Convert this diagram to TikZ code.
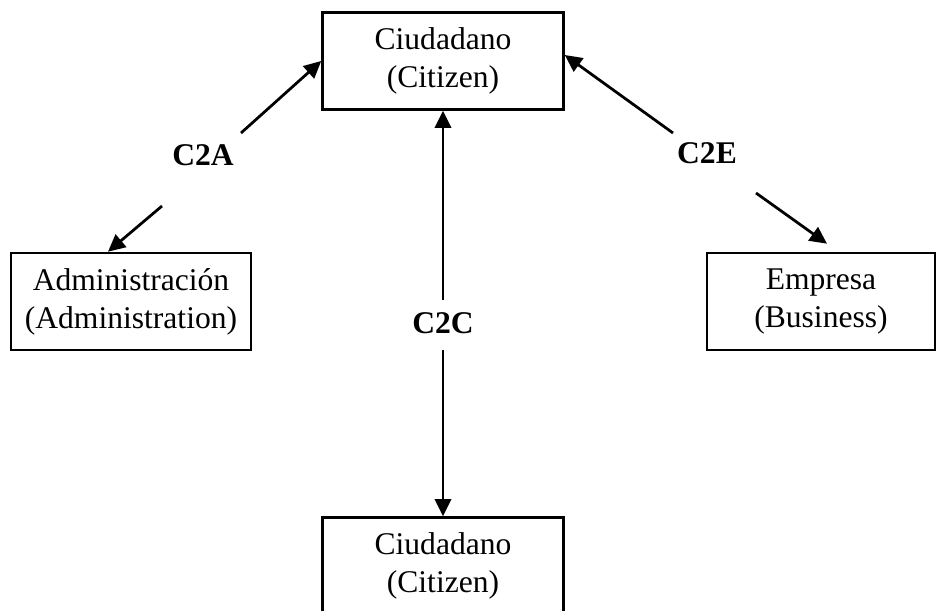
\documentclass[tikz,border=0pt]{standalone}
\usepackage{fontspec}
\setmainfont{Liberation Serif}
\usetikzlibrary{arrows.meta,calc}

\begin{document}
\begin{tikzpicture}[x=0.38pt,y=-0.38pt,
    box/.style={draw,line width=1.05pt,align=center,inner sep=0pt,
      minimum height=36.8pt,font=\fontsize{12}{14.5}\selectfont},
    tag/.style={font=\fontsize{12}{14}\selectfont\bfseries},
    link/.style={line width=1.05pt,-{Triangle[length=6.5pt,width=6.2pt]}}]
      \useasboundingbox (0,0) rectangle (936,610);

      \node[box,minimum width=91.5pt] (citizen)  at (443,61)    {Ciudadano\\(Citizen)};
      \node[box,minimum width=91.2pt] (admin)    at (131,301.5) {Administración\\(Administration)};
      \node[box,minimum width=86.6pt] (business) at (821,301.5) {Empresa\\(Business)};
      \node[box,minimum width=91.5pt] (peer)     at (443,566)   {Ciudadano\\(Citizen)};

      \node[tag] (c2a) at (203,155)   {C2A};
      \node[tag] (c2c) at (443,323)   {C2C};
      \node[tag] (c2e) at (707,153.5) {C2E};

      \coordinate (c2a up)   at (241,133);
      \coordinate (c2a down) at (162,206);
      \coordinate (c2c up)   at (443,300);
      \coordinate (c2c down) at (443,350);
      \coordinate (c2e up)   at (673,133);
      \coordinate (c2e down) at (756,193);

      \draw[link] (c2a up)   -- (citizen.west);
      \draw[link] (c2a down) -- ($(admin.north)+(-23,0)$);
      \draw[link] (c2c up)   -- (citizen.south);
      \draw[link] (c2c down) -- (peer.north);
      \draw[link] (c2e up)   -- ($(citizen.east)+(0,-6)$);
      \draw[link] (c2e down) -- ($(business.north)+(6,-8)$);
    \end{tikzpicture}
\end{document}
